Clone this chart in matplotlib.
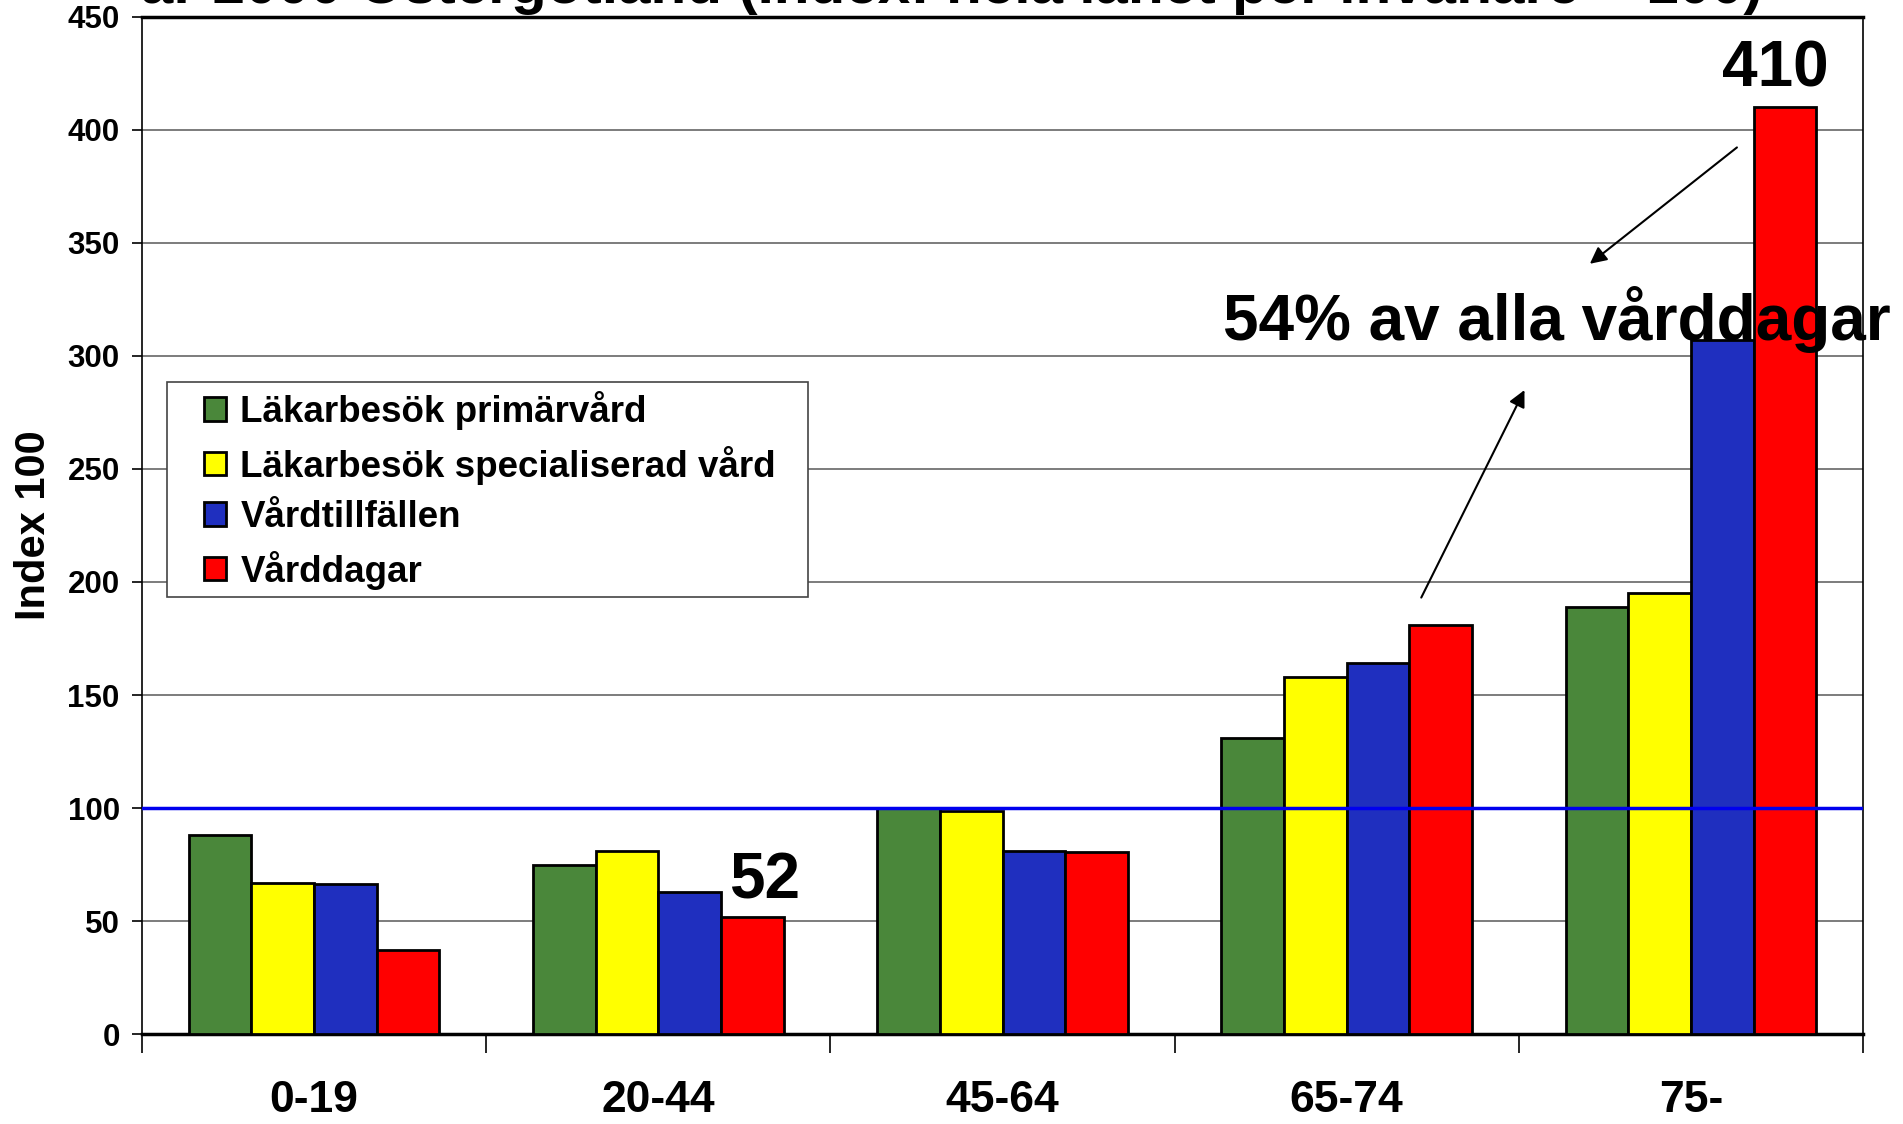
import matplotlib.pyplot as plt
from matplotlib.patches import Rectangle
import numpy as np

plt.rcParams['font.family'] = ['Liberation Sans', 'DejaVu Sans']
plt.rcParams['font.weight'] = 'bold'
plt.rcParams['axes.labelweight'] = 'bold'

# data
age_groups = ['0-19', '20-44', '45-64', '65-74', '75-']
series_names = ['Läkarbesök primärvård', 'Läkarbesök specialiserad vård',
                'Vårdtillfällen', 'Vårddagar']
primarvard = [88, 75, 100, 131, 189]
specialiserad = [67, 81, 98.5, 158, 195]
vardtillfallen = [66.5, 63, 81, 164, 307]
varddagar = [37, 52, 80.5, 181, 410]
colors = ['#4A873A', '#FFFF00', '#1F2FBF', '#FF0000']
yticks = [0, 50, 100, 150, 200, 250, 300, 350, 400, 450]

fig = plt.figure(figsize=(19.03, 11.24), dpi=100)
ax = fig.add_axes([0.0746, 0.080, 0.9044, 0.905])

x = np.arange(len(age_groups))
w = 0.182
all_series = [primarvard, specialiserad, vardtillfallen, varddagar]
for i, (vals, c, name) in enumerate(zip(all_series, colors, series_names)):
    ax.bar(x + (i - 1.5) * w, vals, w, color=c, edgecolor='black',
           linewidth=2, label=name, zorder=3)

ax.axhline(100, color='#0000EE', lw=2.5, zorder=4)

ax.set_xlim(-0.5, 4.5)
ax.set_ylim(0, 450)
ax.set_yticks(yticks)
ax.yaxis.grid(True, color='#666666', lw=1.2, zorder=0)
ax.set_axisbelow(True)
ax.tick_params(axis='y', labelsize=22.5, length=7, width=1.2, pad=9)

ax.set_xticks(x)
ax.set_xticklabels(age_groups, fontsize=32)
ax.set_xticks(np.arange(-0.5, 5, 1), minor=True)
ax.tick_params(axis='x', which='major', length=0, pad=33)
ax.tick_params(axis='x', which='minor', length=14, width=1.2)

for s in ['left', 'right']:
    ax.spines[s].set_linewidth(1.2)
ax.spines['top'].set_linewidth(2.5)
ax.spines['bottom'].set_linewidth(2.5)

ax.set_ylabel('Index 100', fontsize=30, labelpad=10)

# legend frame drawn as a plain box, entries placed inside it
frame = Rectangle((0.088, 0.469), 0.3367, 0.191, transform=fig.transFigure,
                  facecolor='white', edgecolor='#444444', lw=1.2, zorder=5)
ax.add_patch(frame)
leg = ax.legend(loc='upper left', bbox_to_anchor=(0.107, 0.652),
                bbox_transform=fig.transFigure, fontsize=26.5,
                handlelength=0.6, handleheight=0.6, handletextpad=0.4,
                labelspacing=0.42, borderpad=0, borderaxespad=0,
                frameon=False)
leg.set_zorder(6)

ax.text(4.246, 419, '410', fontsize=46, ha='center', va='baseline', zorder=6)
ax.text(1.31, 60, '52', fontsize=46, ha='center', va='baseline', zorder=6)
ax.text(2.64, 307, '54% av alla vårddagar', fontsize=46, ha='left',
        va='baseline', zorder=6)

ax.annotate('', xy=(3.70, 340), xytext=(4.14, 393),
            arrowprops=dict(arrowstyle='-|>', color='black', lw=1.5,
                            mutation_scale=25), zorder=6)
ax.annotate('', xy=(3.52, 286), xytext=(3.213, 192),
            arrowprops=dict(arrowstyle='-|>', color='black', lw=1.5,
                            mutation_scale=25), zorder=6)

# title sits mostly above the figure edge, as in the source slide
fig.text(0.074, 0.997, 'år 2000 Östergötland (Index: hela länet per invånare = 100)',
         fontsize=42, ha='left', va='baseline')

fig.savefig('out.png', dpi=100)
